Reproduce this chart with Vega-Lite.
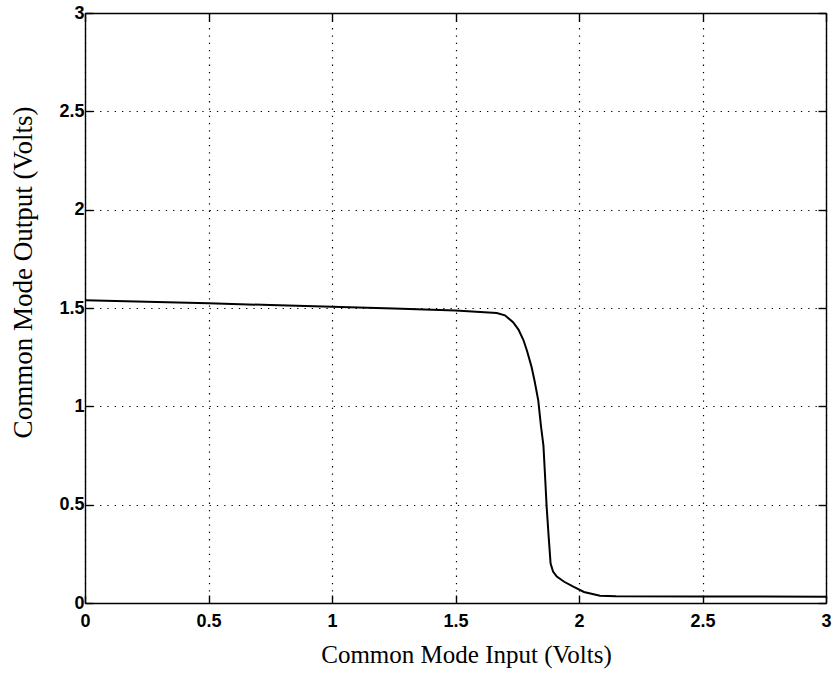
{
  "$schema": "https://vega.github.io/schema/vega-lite/v6.json",
  "width": 741,
  "height": 590,
  "autosize": {"type": "none"},
  "padding": {"left": 85, "top": 13, "right": 9, "bottom": 74},
  "background": "white",
  "config": {
    "view": {"stroke": null},
    "axis": {
      "domainColor": "black",
      "domainWidth": 1.4,
      "tickColor": "black",
      "tickWidth": 1.4,
      "tickSize": -8,
      "labelFont": "Liberation Sans",
      "labelFontSize": 18,
      "labelFontWeight": "bold",
      "labelColor": "black",
      "titleFont": "Liberation Serif",
      "titleFontWeight": "normal",
      "titleColor": "black",
      "gridColor": "black",
      "gridDash": [1.3, 6],
      "gridWidth": 1.2,
      "gridOpacity": 1
    }
  },
  "data": {"values": [
    {"vin": 0.0, "vout": 1.54},
    {"vin": 0.25, "vout": 1.532},
    {"vin": 0.5, "vout": 1.524},
    {"vin": 0.75, "vout": 1.515},
    {"vin": 1.0, "vout": 1.506},
    {"vin": 1.25, "vout": 1.497},
    {"vin": 1.5, "vout": 1.487},
    {"vin": 1.6, "vout": 1.48},
    {"vin": 1.667, "vout": 1.475},
    {"vin": 1.7, "vout": 1.463},
    {"vin": 1.733, "vout": 1.428},
    {"vin": 1.755, "vout": 1.39},
    {"vin": 1.775, "vout": 1.337},
    {"vin": 1.79, "vout": 1.28},
    {"vin": 1.808, "vout": 1.2},
    {"vin": 1.82, "vout": 1.13},
    {"vin": 1.835, "vout": 1.03},
    {"vin": 1.846, "vout": 0.9},
    {"vin": 1.856, "vout": 0.8},
    {"vin": 1.862, "vout": 0.66},
    {"vin": 1.869, "vout": 0.49},
    {"vin": 1.877, "vout": 0.34},
    {"vin": 1.885, "vout": 0.2},
    {"vin": 1.895, "vout": 0.16},
    {"vin": 1.91, "vout": 0.134},
    {"vin": 1.94, "vout": 0.108},
    {"vin": 1.977, "vout": 0.083},
    {"vin": 2.02, "vout": 0.056},
    {"vin": 2.085, "vout": 0.037},
    {"vin": 2.15, "vout": 0.034},
    {"vin": 2.5, "vout": 0.033},
    {"vin": 3.0, "vout": 0.032}
  ]},
  "layer": [
    {
      "mark": {"type": "line", "color": "black", "strokeWidth": 2, "clip": true},
      "encoding": {
        "x": {"field": "vin", "type": "quantitative",
              "scale": {"domain": [0, 3], "nice": false, "zero": false},
              "axis": {"title": "Common Mode Input (Volts)", "values": [0, 0.5, 1, 1.5, 2, 2.5, 3],
                       "format": "~g", "grid": true, "labelPadding": 17, "titlePadding": 12,
                       "titleFontSize": 25, "titleX": 381, "labelFlush": false}},
        "y": {"field": "vout", "type": "quantitative",
              "scale": {"domain": [0, 3], "nice": false, "zero": false},
              "axis": {"title": "Common Mode Output (Volts)", "values": [0, 0.5, 1, 1.5, 2, 2.5, 3],
                       "format": "~g", "grid": true, "labelPadding": 9, "titlePadding": 21,
                       "titleFontSize": 27, "titleY": 259, "labelFlush": false}}
      }
    },
    {
      "mark": {"type": "point", "opacity": 0},
      "encoding": {
        "x": {"field": "vin", "type": "quantitative",
              "scale": {"domain": [0, 3], "nice": false, "zero": false},
              "axis": {"orient": "top", "title": null, "labels": false, "grid": false,
                       "values": [0, 0.5, 1, 1.5, 2, 2.5, 3]}},
        "y": {"field": "vout", "type": "quantitative",
              "scale": {"domain": [0, 3], "nice": false, "zero": false},
              "axis": {"orient": "right", "title": null, "labels": false, "grid": false,
                       "values": [0, 0.5, 1, 1.5, 2, 2.5, 3]}}
      }
    }
  ],
  "resolve": {"axis": {"x": "independent", "y": "independent"}}
}
